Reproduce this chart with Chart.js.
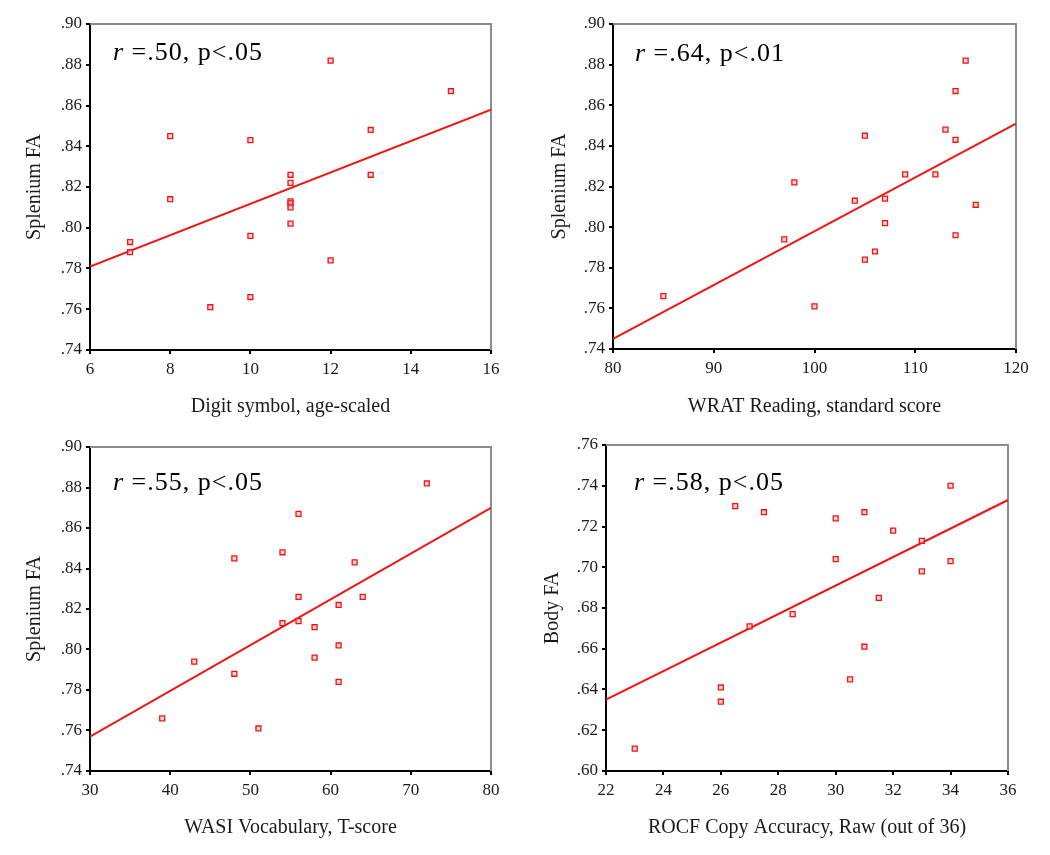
<!DOCTYPE html>
<html>
<head>
<meta charset="utf-8">
<script src="https://cdn.jsdelivr.net/npm/chart.js@4.4.0/dist/chart.umd.min.js"></script>
<style>
  body { margin: 0; background: #fff; }
  #page { position: relative; width: 1050px; height: 855px; }
  canvas { position: absolute; }
</style>
</head>
<body>
<div id="page">
  <canvas id="c1" width="525" height="420" style="left:0;top:0"></canvas>
  <canvas id="c2" width="525" height="420" style="left:525px;top:0"></canvas>
  <canvas id="c3" width="525" height="435" style="left:0;top:420px"></canvas>
  <canvas id="c4" width="525" height="435" style="left:525px;top:420px"></canvas>
</div>
<script>
// panel 1: digit symbol vs splenium FA
const digitX  = [7, 7, 8, 8, 9, 10, 10, 10, 11, 11, 11, 11, 11, 11, 12, 12, 13, 13, 15];
const digitFA = [.793, .788, .845, .814, .761, .843, .796, .766, .826, .822, .813, .812, .810, .802, .882, .784, .848, .826, .867];
const digitFitX = [6, 16];
const digitFitY = [.781, .858];

// panel 2: WRAT reading vs splenium FA
const wratX  = [85, 97, 98, 100, 104, 105, 105, 106, 107, 107, 109, 112, 113, 114, 114, 114, 115, 116];
const wratFA = [.766, .794, .822, .761, .813, .845, .784, .788, .814, .802, .826, .826, .848, .867, .843, .796, .882, .811];
const wratFitX = [80, 120];
const wratFitY = [.745, .851];

// panel 3: WASI vocabulary vs splenium FA
const wasiX  = [39, 43, 48, 48, 51, 54, 54, 56, 56, 56, 58, 58, 61, 61, 61, 63, 64, 72];
const wasiFA = [.766, .794, .845, .788, .761, .848, .813, .867, .826, .814, .811, .796, .822, .802, .784, .843, .826, .882];
const wasiFitX = [30, 80];
const wasiFitY = [.757, .870];

// panel 4: ROCF copy vs body FA
const rocfX  = [23, 26, 26, 26.5, 27, 27.5, 28.5, 30, 30, 30.5, 31, 31, 31.5, 32, 33, 33, 34, 34];
const bodyFA = [.611, .641, .634, .730, .671, .727, .677, .724, .704, .645, .727, .661, .685, .718, .713, .698, .740, .703];
const rocfFitX = [22, 36];
const rocfFitY = [.635, .733];

// axis ranges [min, max, step]
const digitRange = [6, 16, 2];
const wratRange  = [80, 120, 10];
const wasiRange  = [30, 80, 10];
const rocfRange  = [22, 36, 2];
const splRange   = [.74, .90, .02];
const bodyRange  = [.60, .76, .02];

const xTitles = ['Digit symbol, age-scaled', 'WRAT Reading, standard score', 'WASI Vocabulary, T-score', 'ROCF Copy Accuracy, Raw (out of 36)'];
const yTitles = ['Splenium FA', 'Splenium FA', 'Splenium FA', 'Body FA'];
const corrText = [' =.50, p<.05', ' =.64, p<.01', ' =.55, p<.05', ' =.58, p<.05'];

const SERIF = '"Liberation Serif", "Times New Roman", serif';
const RED = 'rgb(240, 20, 20)';

const framePlugin = {
  id: 'frame',
  beforeDatasetsDraw(chart) {
    const {ctx, chartArea: a} = chart;
    ctx.save();
    ctx.strokeStyle = '#8c8c8c';
    ctx.lineWidth = 2;
    ctx.beginPath();
    ctx.moveTo(a.left, a.top);
    ctx.lineTo(a.right, a.top);
    ctx.lineTo(a.right, a.bottom);
    ctx.stroke();
    ctx.restore();
  }
};

const corrPlugin = {
  id: 'corr',
  afterDraw(chart, args, opts) {
    const {ctx, chartArea: a} = chart;
    let x = a.left + opts.dx;
    const y = a.top + opts.dy;
    ctx.save();
    ctx.fillStyle = '#000';
    ctx.textBaseline = 'alphabetic';
    ctx.letterSpacing = '1px';
    ctx.font = 'italic 26px ' + SERIF;
    ctx.fillText('r', x, y);
    x += ctx.measureText('r').width;
    ctx.font = '26px ' + SERIF;
    ctx.fillText(opts.text, x, y);
    ctx.restore();
  }
};

function makePanel(id, xs, ys, fitX, fitY, xr, yr, idx, lay) {
  const pts = xs.map((x, i) => ({x: x, y: ys[i]}));
  const fit = fitX.map((x, i) => ({x: x, y: fitY[i]}));
  return new Chart(document.getElementById(id), {
    type: 'scatter',
    data: {
      datasets: [
        {
          data: pts,
          pointStyle: 'rect',
          pointRadius: 3.5,
          pointBorderWidth: 1.3,
          borderColor: RED,
          backgroundColor: 'rgba(255, 190, 190, 0.7)'
        },
        {
          type: 'line',
          data: fit,
          borderColor: RED,
          borderWidth: 2,
          pointRadius: 0,
          fill: false
        }
      ]
    },
    options: {
      responsive: false,
      animation: false,
      layout: { padding: { top: lay.top, right: lay.right, left: 0, bottom: 0 } },
      plugins: {
        legend: { display: false },
        tooltip: { enabled: false },
        corr: { text: corrText[idx], dx: lay.tx, dy: lay.ty }
      },
      scales: {
        x: {
          type: 'linear',
          min: xr[0], max: xr[1],
          border: { color: '#000', width: 2 },
          grid: { drawOnChartArea: false, color: '#000', lineWidth: 2, tickLength: 4 },
          ticks: { stepSize: xr[2], padding: 5, color: '#1a1a1a', font: { family: SERIF, size: 17 } },
          title: { display: true, text: xTitles[idx], color: '#1a1a1a', font: { family: SERIF, size: 20 }, padding: { top: 0, bottom: lay.xtp } },
          afterFit(s) { s.height = lay.xh; s.paddingLeft = 0; s.paddingRight = 0; }
        },
        y: {
          type: 'linear',
          min: yr[0], max: yr[1],
          border: { color: '#000', width: 2 },
          grid: { drawOnChartArea: false, color: '#000', lineWidth: 2, tickLength: 4 },
          ticks: {
            stepSize: yr[2], padding: 4, color: '#1a1a1a', font: { family: SERIF, size: 17 },
            callback: v => v.toFixed(2).replace(/^0/, '')
          },
          title: { display: true, text: yTitles[idx], color: '#1a1a1a', font: { family: SERIF, size: 20 }, padding: { top: lay.ytp, bottom: 0 } },
          afterFit(s) { s.width = lay.yw; s.paddingTop = 0; s.paddingBottom = 0; }
        }
      }
    },
    plugins: [framePlugin, corrPlugin]
  });
}

makePanel('c1', digitX, digitFA, digitFitX, digitFitY, digitRange, splRange, 0,
  { top: 24, right: 34, yw: 90, xh: 70, xtp: 1, ytp: 23, tx: 23, ty: 36 });
makePanel('c2', wratX, wratFA, wratFitX, wratFitY, wratRange, splRange, 1,
  { top: 24, right: 34, yw: 88, xh: 71, xtp: 1, ytp: 23, tx: 22, ty: 37 });
makePanel('c3', wasiX, wasiFA, wasiFitX, wasiFitY, wasiRange, splRange, 2,
  { top: 27, right: 34, yw: 90, xh: 84, xtp: 15, ytp: 23, tx: 23, ty: 43 });
makePanel('c4', rocfX, bodyFA, rocfFitX, rocfFitY, rocfRange, bodyRange, 3,
  { top: 25, right: 42, yw: 81, xh: 84, xtp: 15, ytp: 16, tx: 28, ty: 45 });
</script>
</body>
</html>
